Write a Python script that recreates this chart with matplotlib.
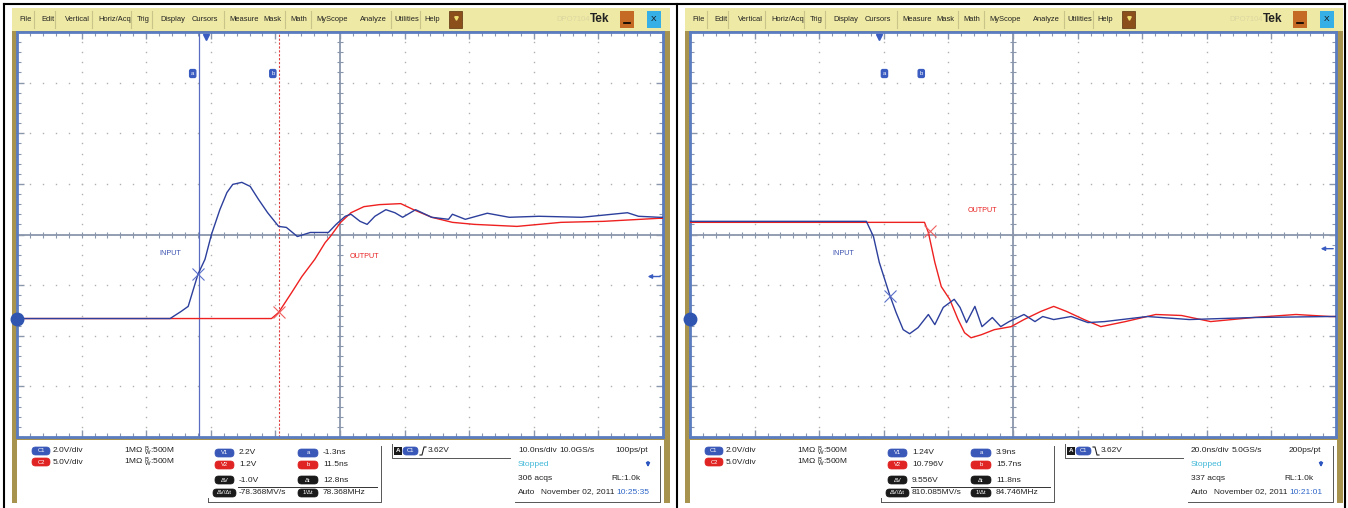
import numpy as np
import matplotlib
matplotlib.use("Agg")
import matplotlib.pyplot as plt
from matplotlib.patches import Rectangle, FancyBboxPatch

plt.rcParams['font.family'] = ['Liberation Sans Narrow', 'Liberation Sans', 'DejaVu Sans']

W, H = 1348, 508

# traces, in graticule divisions (x: 0..10 from left, y: -4..4 from centre)
left_blue_x = [0, 2.37, 2.54, 2.65, 2.80, 2.91, 3.01, 3.14, 3.25, 3.34, 3.48, 3.61, 3.74, 3.88, 4.05, 4.17,
               4.34, 4.54, 4.82, 4.94, 5.08, 5.17, 5.31, 5.42, 5.54, 5.71, 5.85, 5.97, 6.17, 6.42, 6.68, 6.74,
               6.94, 7.28, 7.62, 8.08, 8.74, 9.45, 9.62, 9.94, 10]
left_blue_y = [-1.66, -1.66, -1.52, -1.42, -0.79, -0.49, 0.0, 0.49, 0.83, 0.99, 1.03, 0.95, 0.69, 0.43, 0.16, 0.14,
               -0.04, 0.04, 0.04, 0.20, 0.36, 0.40, 0.26, 0.20, 0.36, 0.49, 0.43, 0.34, 0.49, 0.34, 0.30, 0.40,
               0.30, 0.42, 0.34, 0.36, 0.34, 0.43, 0.36, 0.34, 0.34]
left_red_x = [0, 3.94, 4.05, 4.25, 4.41, 4.61, 4.77, 4.85, 5.01, 5.17, 5.37, 5.61, 5.94, 6.14, 6.42, 6.74,
              7.08, 7.74, 8.42, 9.08, 9.94, 10]
left_red_y = [-1.66, -1.66, -1.54, -1.15, -0.83, -0.49, -0.16, -0.04, 0.24, 0.43, 0.55, 0.59, 0.61, 0.49, 0.34, 0.24,
              0.20, 0.16, 0.24, 0.26, 0.32, 0.32]
right_blue_x = [0, 2.73, 2.84, 2.93, 3.09, 3.19, 3.30, 3.40, 3.53, 3.69, 3.79, 3.92, 4.09, 4.18, 4.28, 4.41,
                4.52, 4.68, 4.81, 4.94, 5.17, 5.34, 5.46, 5.63, 5.90, 6.16, 6.42, 7.08, 7.73, 8.72, 9.91, 10]
right_blue_y = [0.26, 0.26, -0.04, -0.55, -1.19, -1.54, -1.88, -1.96, -1.84, -1.58, -1.78, -1.44, -1.28, -1.44, -1.74, -1.42,
                -1.82, -1.64, -1.82, -1.72, -1.58, -1.72, -1.62, -1.68, -1.62, -1.74, -1.72, -1.62, -1.68, -1.64, -1.62, -1.62]
right_red_x = [0, 3.63, 3.69, 3.79, 3.89, 4.02, 4.15, 4.25, 4.35, 4.51, 4.71, 4.97, 5.17, 5.43, 5.63, 5.83,
               6.10, 6.36, 6.74, 7.21, 7.61, 8.06, 8.72, 9.38, 9.91, 10]
right_red_y = [0.24, 0.24, 0.04, -0.55, -1.03, -1.28, -1.68, -1.94, -2.04, -1.98, -1.88, -1.82, -1.68, -1.52, -1.42, -1.52,
               -1.68, -1.82, -1.72, -1.58, -1.60, -1.72, -1.64, -1.58, -1.62, -1.62]

# cursor crossings (x marks)
left_marks = [(2.80, -0.79), (4.05, -1.54)]
right_marks = [(3.10, -1.21), (3.72, 0.06)]
ground_level = -1.66

menu_items = ["File", "Edit", "Vertical", "Horiz/Acq", "Trig", "Display", "Cursors", "Measure",
              "Mask", "Math", "MyScope", "Analyze", "Utilities", "Help"]
menu_x = [19, 41, 65, 98, 137, 160, 192, 229, 263, 290, 316, 360, 394, 424]
menu_sep = [34, 55, 92, 131, 152, 224, 285, 311, 391, 420]

left_info = dict(ch=["2.0V/div", "5.0V/div"], v1="2.2V", v2="1.2V", dv="-1.0V", dvdt="-78.368MV/s",
                 a="-1.3ns", b="11.5ns", dt="12.8ns", inv="78.368MHz", trig="3.62V", rising=True,
                 hor=["10.0ns/div", "10.0GS/s", "100ps/pt"], acqs="306 acqs", time="10:25:35")
right_info = dict(ch=["2.0V/div", "5.0V/div"], v1="1.24V", v2="10.796V", dv="9.556V", dvdt="810.085MV/s",
                  a="3.9ns", b="15.7ns", dt="11.8ns", inv="84.746MHz", trig="3.62V", rising=False,
                  hor=["20.0ns/div", "5.0GS/s", "200ps/pt"], acqs="337 acqs", time="10:21:01")

BLUE = '#2c3f9c'
RED = '#ee2020'
GOLD = '#a8934e'
MENU = '#eee9a4'
EDGE = '#5a7cc0'

fig = plt.figure(figsize=(W / 100, H / 100), dpi=100)
bg = fig.add_axes([0, 0, 1, 1])
bg.set_xlim(0, W)
bg.set_ylim(H, 0)
bg.axis('off')


def badge(x, y, w, label, color, h=8):
    bg.add_patch(FancyBboxPatch((x, y - h / 2), w, h, boxstyle="round,pad=0,rounding_size=3.5",
                                fc=color, ec=color, lw=0.5))
    bg.text(x + w / 2, y, label, color='white', fontsize=4.2, ha='center', va='center')


def txt(x, y, s, color='#222222', size=6, **kw):
    bg.text(x, y, s, color=color, fontsize=size, va='center', **kw)


def panel(ox, bx, by, rx, ry, marks, info, cursors, labels, arrow_y):
    # chrome
    bg.add_patch(Rectangle((ox + 12, 8), 658, 495, fc=GOLD, ec='none'))
    bg.add_patch(Rectangle((ox + 12, 8), 658, 23, fc=MENU, ec='none'))
    bg.add_patch(Rectangle((ox + 17, 440), 647, 63, fc='white', ec='none'))
    for s, x in zip(menu_items, menu_x):
        txt(ox + x, 19.5, s, size=5.4)
    for x in menu_sep:
        bg.plot([ox + x, ox + x], [11, 28], color='#c9c48a', lw=0.8)
    bg.add_patch(Rectangle((ox + 449, 11), 13, 17, fc='#8b4f1c', ec='#5a300c', lw=0.5))
    bg.plot(ox + 455.5, 18, marker='v', ms=2.5, color='#f0e070')
    txt(ox + 556, 19.5, "DPO7104", color='#dcd7a0', size=5.5)
    txt(ox + 590, 19, "Tek", size=8.5, fontweight='bold')
    bg.add_patch(Rectangle((ox + 620, 11), 14, 17, fc='#c46a24', ec='none'))
    bg.plot([ox + 624, ox + 630], [23, 23], color='black', lw=1.2)
    bg.add_patch(Rectangle((ox + 647, 11), 14, 17, fc='#36aee6', ec='none'))
    txt(ox + 654, 19.5, "X", size=6, ha='center', color='#111111')

    # graticule
    ax = fig.add_axes([(ox + 17) / W, 1 - 437 / H, 646 / W, 405 / H])
    ax.set_xlim(0, 10)
    ax.set_ylim(-4, 4)
    for sp in ax.spines.values():
        sp.set_color(EDGE)
        sp.set_linewidth(2)
    ax.set_xticks(np.arange(0, 10.01, 1))
    ax.set_yticks(np.arange(-4, 4.01, 1))
    ax.set_xticks(np.arange(0, 10.01, 0.2), minor=True)
    ax.set_yticks(np.arange(-4, 4.01, 0.2), minor=True)
    ax.tick_params(which='both', direction='in', top=True, right=True, labelbottom=False, labelleft=False,
                   color='#8a96ac')
    ax.tick_params(which='major', length=5, width=1)
    ax.tick_params(which='minor', length=3, width=0.8)
    fine_x = np.arange(0, 10.01, 0.2)
    fine_y = np.arange(-4, 4.01, 0.2)
    for gx in [1, 2, 3, 4, 6, 7, 8, 9]:
        ax.plot(np.full_like(fine_y, gx), fine_y, ls='none', marker='s', ms=1.0, color='#b0b0b0', mew=0)
    for gy in [-3, -2, -1, 1, 2, 3]:
        ax.plot(fine_x, np.full_like(fine_x, gy), ls='none', marker='s', ms=1.0, color='#b0b0b0', mew=0)
    ax.axhline(0, color='#8a96ac', lw=1.3)
    ax.axvline(5, color='#8a96ac', lw=1.3)
    ax.plot(fine_x, np.zeros_like(fine_x), ls='none', marker='|', ms=4, color='#8a96ac', mew=0.8)
    ax.plot(np.full_like(fine_y, 5), fine_y, ls='none', marker='_', ms=4, color='#8a96ac', mew=0.8)

    if cursors:
        ax.axvline(cursors[0], color='#5a6cc0', lw=0.9)
        ax.axvline(cursors[1], color='#e04040', lw=0.8, ls=(0, (2, 1.5)))

    ax.plot(rx, ry, color=RED, lw=1.0, zorder=5)
    ax.plot(bx, by, color=BLUE, lw=1.0, zorder=6)
    ax.plot(*marks[0], marker='x', ms=9, mew=0.8, color='#5a70c8', zorder=7)
    ax.plot(*marks[1], marker='x', ms=9, mew=0.8, color='#f06060', zorder=7)

    for (lx, ly, s, c) in labels:
        ax.text(lx, ly, s, color=c, fontsize=5.2, ha='left', va='center')
    for lx, s in zip(info['ab_x'], ['a', 'b']):
        ax.text(lx, 3.18, s, color='white', fontsize=4.2, ha='center', va='center',
                bbox=dict(boxstyle='round,pad=0.25', fc='#3a5cc0', ec='#3a5cc0'))
    ax.plot(info['trig_x'], 3.9, marker='v', ms=5, color='#3a5cc0', clip_on=False, zorder=8)
    ax.plot(0, ground_level, marker='o', ms=9, color='#2f55b0', clip_on=False, zorder=8)
    ax.annotate('', xy=(9.72, arrow_y), xytext=(10, arrow_y),
                arrowprops=dict(arrowstyle='-|>', color='#3a5cc0', lw=1, mutation_scale=6))

    # readout panel
    badge(ox + 32, 451, 18, "C1", '#3a58b8')
    badge(ox + 32, 462, 18, "C2", '#e02424')
    txt(ox + 53, 451, info['ch'][0])
    txt(ox + 53, 462, info['ch'][1])
    for yy in [451, 462]:
        txt(ox + 124, yy, r'1MΩ $\mathregular{^{B}_{W}}$:500M')
    badge(ox + 215, 453, 19, "V1", '#3a58b8')
    badge(ox + 215, 465, 19, "V2", '#e02424')
    badge(ox + 215, 480, 19, "ΔV", '#1a1a1a')
    badge(ox + 213, 493, 23, "ΔV/Δt", '#1a1a1a')
    txt(ox + 239, 453, info['v1'])
    txt(ox + 239, 465, info['v2'])
    txt(ox + 239, 480, info['dv'])
    txt(ox + 239, 493, info['dvdt'])
    badge(ox + 298, 453, 20, "a", '#3a58b8')
    badge(ox + 298, 465, 20, "b", '#e02424')
    badge(ox + 298, 480, 20, "Δt", '#1a1a1a')
    badge(ox + 298, 493, 20, "1/Δt", '#1a1a1a')
    txt(ox + 323, 453, info['a'])
    txt(ox + 323, 465, info['b'])
    txt(ox + 323, 480, info['dt'])
    txt(ox + 323, 493, info['inv'])
    bg.plot([ox + 238, ox + 377], [487, 487], color='#333333', lw=0.7)
    bg.plot([ox + 381, ox + 381, ox + 208], [446, 502, 502], color='#555555', lw=0.7)
    bg.plot([ox + 208, ox + 208], [498, 502], color='#555555', lw=0.7)

    # trigger box
    bg.plot([ox + 392, ox + 392, ox + 510], [444, 458, 458], color='#555555', lw=0.7)
    bg.add_patch(Rectangle((ox + 394, 447), 8, 8, fc='#1a1a1a', ec='none'))
    bg.text(ox + 398, 451, "A", color='white', fontsize=4.5, ha='center', va='center', fontweight='bold')
    badge(ox + 403, 451, 15, "C1", '#3a58b8')
    if info['rising']:
        bg.plot(ox + np.array([420, 422, 424, 426]), [455, 455, 447, 447], color='#222222', lw=0.8)
    else:
        bg.plot(ox + np.array([420, 422, 424, 426]), [447, 447, 455, 455], color='#222222', lw=0.8)
    txt(ox + 428, 451, info['trig'])

    # horizontal / acquisition box
    bg.plot([ox + 515, ox + 660, ox + 660], [502, 502, 446], color='#555555', lw=0.7)
    txt(ox + 518, 451, info['hor'][0])
    txt(ox + 559, 451, info['hor'][1])
    txt(ox + 648, 451, info['hor'][2], ha='right')
    txt(ox + 518, 465, "Stopped", color='#40b8d8')
    bg.annotate('', xy=(ox + 648, 470), xytext=(ox + 648, 459),
                arrowprops=dict(arrowstyle='-|>', color='#2c55c0', lw=1.2, mutation_scale=5))
    txt(ox + 518, 479, info['acqs'])
    txt(ox + 611, 479, "RL:1.0k")
    txt(ox + 518, 492, "Auto")
    txt(ox + 541, 492, "November 02, 2011")
    txt(ox + 616, 492, info['time'], color='#2f66c8')


left_info.update(ab_x=[2.72, 3.96], trig_x=2.93)
right_info.update(ab_x=[3.01, 3.58], trig_x=2.92)

panel(0, left_blue_x, left_blue_y, left_red_x, left_red_y, left_marks, left_info, [2.82, 4.06],
      [(2.2, -0.38, "INPUT", '#3a50b0'), (5.15, -0.43, "OUTPUT", '#e82020')], -0.83)
panel(673, right_blue_x, right_blue_y, right_red_x, right_red_y, right_marks, right_info, None,
      [(2.2, -0.38, "INPUT", '#3a50b0'), (4.3, 0.47, "OUTPUT", '#e82020')], -0.28)

# outer frame lines
bg.plot([4, 1345], [4, 4], color='black', lw=1.5)
bg.plot([4, 4], [4, 508], color='black', lw=1.5)
bg.plot([677, 677], [4, 508], color='black', lw=1.5)
bg.plot([1345, 1345], [4, 508], color='black', lw=1.5)

fig.savefig("out.png", dpi=100)
